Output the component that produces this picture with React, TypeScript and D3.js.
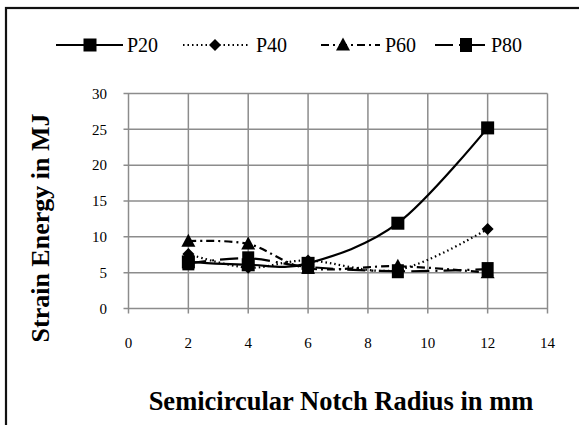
import React from "react";
import * as d3 from "d3";

const xValues = [2, 4, 6, 9, 12];
const seriesNames = ["P20", "P40", "P60", "P80"];
const p20 = [6.5, 6.1, 6.3, 11.9, 25.2];
const p40 = [7.6, 5.7, 6.7, 5.4, 11.1];
const p60 = [9.4, 9.0, 5.6, 5.9, 5.0];
const p80 = [6.3, 7.0, 5.8, 5.2, 5.5];
const xTicks = [0, 2, 4, 6, 8, 10, 12, 14];
const yTicks = [0, 5, 10, 15, 20, 25, 30];

const W = 579;
const H = 425;
const FONT = "Liberation Serif, Times New Roman, serif";

const styles: Record<string, { dash: string; marker: string }> = {
  P20: { dash: "", marker: "square" },
  P40: { dash: "1.5,3", marker: "diamond" },
  P60: { dash: "8,4,2,4", marker: "triangle" },
  P80: { dash: "18,6,2,6", marker: "square2" },
};

function Marker({ type, x, y }: { type: string; x: number; y: number }) {
  if (type === "square") return <rect x={x - 6.5} y={y - 6.5} width={13} height={13} fill="#000" />;
  if (type === "square2") return <rect x={x - 6} y={y - 7} width={12} height={14} fill="#000" />;
  if (type === "diamond")
    return <path d={`M${x},${y - 6}L${x + 6},${y}L${x},${y + 6}L${x - 6},${y}Z`} fill="#000" />;
  return <path d={`M${x},${y - 7.5}L${x + 7},${y + 5.5}L${x - 7},${y + 5.5}Z`} fill="#000" />;
}

export default function App() {
  const x = d3.scaleLinear().domain([0, 14]).range([128.5, 547.5]);
  const y = d3.scaleLinear().domain([0, 30]).range([308.5, 93.5]);
  const data: Record<string, number[]> = { P20: p20, P40: p40, P60: p60, P80: p80 };
  const line = d3
    .line<[number, number]>()
    .x((d) => x(d[0]))
    .y((d) => y(d[1]))
    .curve(d3.curveCatmullRom.alpha(0));

  const legendItems = [
    { name: "P20", x0: 56, x1: 123, mx: 90, tx: 127 },
    { name: "P40", x0: 183, x1: 250, mx: 215, tx: 256 },
    { name: "P60", x0: 321, x1: 380, mx: 343, tx: 385 },
    { name: "P80", x0: 435, x1: 487, mx: 466, tx: 491 },
  ];
  const ly = 45;

  return (
    <svg
      width={W}
      height={H}
      style={{ position: "fixed", left: 0, top: 0, background: "#fff", fontFamily: FONT }}
    >
      <rect x={0} y={0} width={W} height={H} fill="#fff" />
      <rect x={6} y={8} width={W + 20} height={H + 20} fill="none" stroke="#111" strokeWidth={2.2} />

      {xTicks.map((t) => (
        <line key={"gx" + t} x1={x(t)} x2={x(t)} y1={y(30)} y2={y(0) + 5} stroke="#8c8c8c" strokeWidth={1.5} />
      ))}
      {yTicks.map((t) => (
        <line key={"gy" + t} x1={x(0) - 5} x2={x(14)} y1={y(t)} y2={y(t)} stroke="#8c8c8c" strokeWidth={1.5} />
      ))}

      {yTicks.map((t) => (
        <text key={"ty" + t} x={107} y={y(t)} dy="0.35em" textAnchor="end" fontSize={15} fontFamily={FONT}>
          {t}
        </text>
      ))}
      {xTicks.map((t) => (
        <text key={"tx" + t} x={x(t)} y={348} textAnchor="middle" fontSize={15} fontFamily={FONT}>
          {t}
        </text>
      ))}

      {seriesNames.map((n) => {
        const pts = xValues.map((xv, i) => [xv, data[n][i]] as [number, number]);
        const s = styles[n];
        return (
          <g key={n}>
            <path
              d={line(pts) || ""}
              fill="none"
              stroke="#000"
              strokeWidth={2.2}
              strokeDasharray={s.dash || undefined}
            />
            {pts.map((p, i) => (
              <Marker key={i} type={s.marker} x={x(p[0])} y={y(p[1])} />
            ))}
          </g>
        );
      })}

      {legendItems.map((it) => {
        const s = styles[it.name];
        return (
          <g key={"lg" + it.name}>
            <line
              x1={it.x0}
              x2={it.x1}
              y1={ly}
              y2={ly}
              stroke="#000"
              strokeWidth={2.2}
              strokeDasharray={s.dash || undefined}
            />
            <Marker type={s.marker} x={it.mx} y={ly} />
            <text x={it.tx} y={ly} dy="0.35em" fontSize={20} fontFamily={FONT}>
              {it.name}
            </text>
          </g>
        );
      })}

      <text x={341} y={410} textAnchor="middle" fontSize={26.5} fontWeight="bold" fontFamily={FONT}>
        Semicircular Notch Radius in mm
      </text>
      <text
        transform={`translate(49,228) rotate(-90)`}
        textAnchor="middle"
        fontSize={26}
        fontWeight="bold"
        fontFamily={FONT}
      >
        Strain Energy in MJ
      </text>
    </svg>
  );
}
